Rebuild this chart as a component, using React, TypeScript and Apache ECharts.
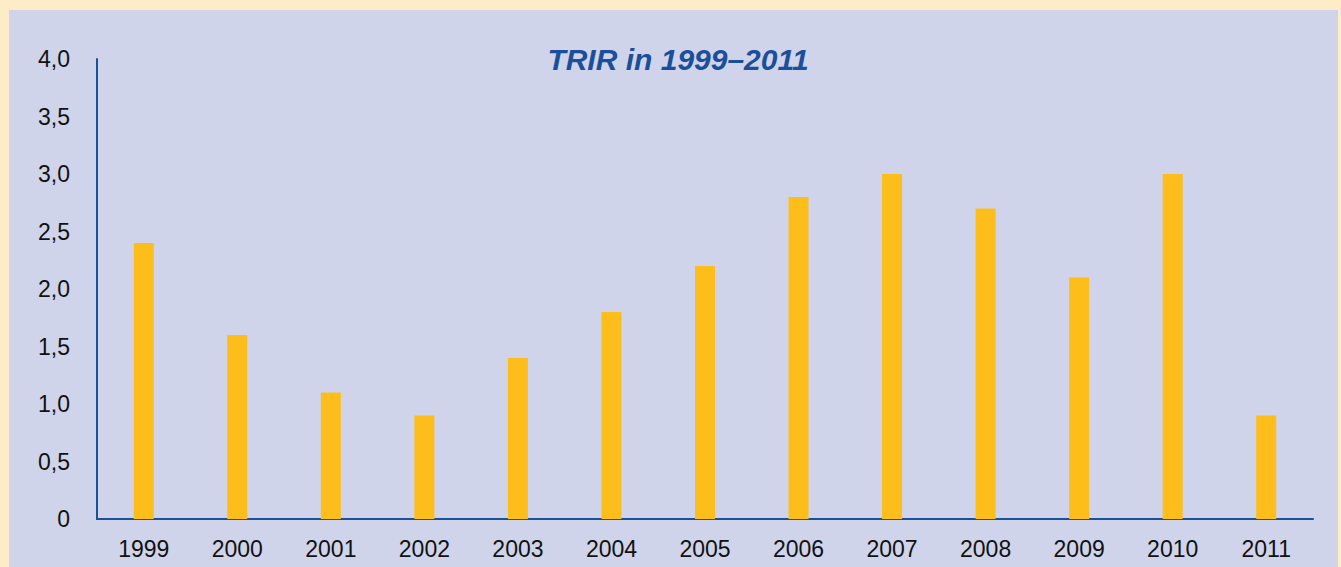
import React, { useEffect, useRef } from "react";
import * as echarts from "echarts";

const years = ["1999", "2000", "2001", "2002", "2003", "2004", "2005", "2006", "2007", "2008", "2009", "2010", "2011"];
const trir = [2.4, 1.6, 1.1, 0.9, 1.4, 1.8, 2.2, 2.8, 3.0, 2.7, 2.1, 3.0, 0.9];
const titleText = "TRIR in 1999–2011";

export default function App() {
  const ref = useRef<HTMLDivElement>(null);
  useEffect(() => {
    if (!ref.current) return;
    const chart = echarts.init(ref.current, undefined, { renderer: "svg" });
    chart.setOption({
      animation: false,
      backgroundColor: "#FEEBC8",
      graphic: [
        {
          type: "rect",
          z: -10,
          shape: { x: 9, y: 10, width: 1329, height: 600 },
          style: { fill: "#CFD4EA" },
          silent: true,
        },
      ],
      title: {
        text: titleText,
        left: 673,
        top: 39,
        textAlign: "center",
        textStyle: {
          fontFamily: "Liberation Sans, Arial, sans-serif",
          fontStyle: "italic",
          fontWeight: "bold",
          fontSize: 30,
          color: "#1B4F9B",
        },
      },
      grid: { left: 97, right: 28, top: 59, bottom: 48, containLabel: false },
      xAxis: {
        type: "category",
        data: years,
        axisLine: { show: true, lineStyle: { color: "#1A4F99", width: 2 } },
        axisTick: { show: false },
        axisLabel: {
          color: "#111111",
          fontSize: 23,
          fontFamily: "Liberation Sans, Arial, sans-serif",
          margin: 18,
        },
      },
      yAxis: {
        type: "value",
        min: 0,
        max: 4,
        interval: 0.5,
        axisLine: { show: true, lineStyle: { color: "#1A4F99", width: 2 } },
        axisTick: { show: false },
        splitLine: { show: false },
        axisLabel: {
          color: "#111111",
          fontSize: 23,
          fontFamily: "Liberation Sans, Arial, sans-serif",
          margin: 27,
          formatter: (v: number) => (v === 0 ? "0" : v.toFixed(1).replace(".", ",")),
        },
      },
      series: [
        {
          type: "bar",
          data: trir,
          barWidth: 20,
          itemStyle: { color: "#FDBE1B" },
        },
      ],
    });
    return () => chart.dispose();
  }, []);
  return (
    <div
      ref={ref}
      style={{ position: "fixed", left: 0, top: 0, width: 1341, height: 567 }}
    />
  );
}
